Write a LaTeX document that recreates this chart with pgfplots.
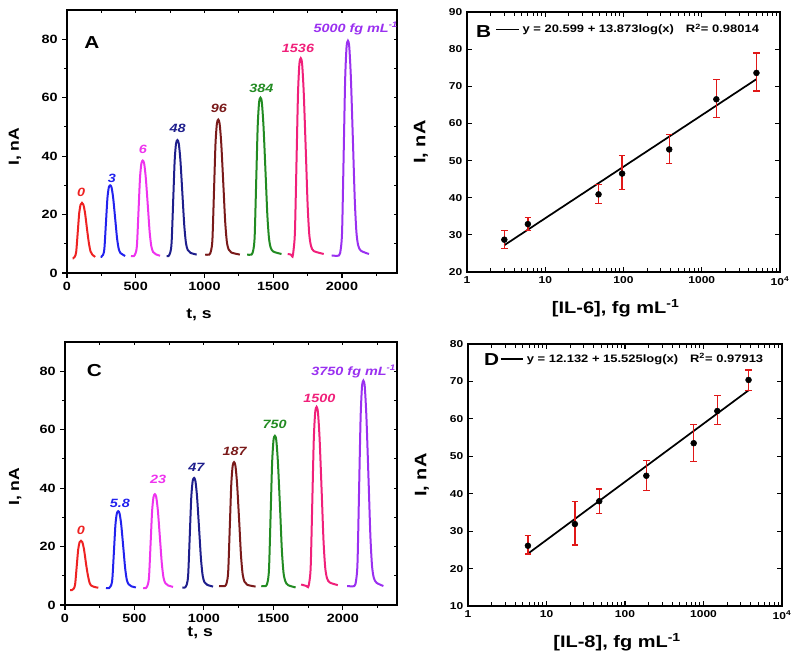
\documentclass[border=0pt]{standalone}
\usepackage{fontspec}
\setmainfont{Liberation Sans}[FakeStretch=1.2]
\usepackage{pgfplots}
\pgfplotsset{compat=1.18}
\definecolor{cRed}{HTML}{EE2222}
\definecolor{cBlue}{HTML}{2222EE}
\definecolor{cMag}{HTML}{EE33EE}
\definecolor{cNavy}{HTML}{1E1E8C}
\definecolor{cDred}{HTML}{7A1A1A}
\definecolor{cGreen}{HTML}{228B22}
\definecolor{cPink}{HTML}{F0207A}
\definecolor{cPurp}{HTML}{9A30F0}
\definecolor{cErr}{HTML}{E01818}
\tikzset{lab/.style={font=\bfseries\itshape\fontsize{9}{10}\selectfont}}
\pgfplotsset{
  pk/.style={line width=1.5pt, smooth, tension=0.45, no markers},
  chrom/.style={scale only axis, anchor=south west, clip=false,
    xmin=0, xmax=2400, ymin=0, ymax=90,
    axis line style={line width=0.8pt},
    tick align=outside, tick pos=left,
    xtick={0,500,...,2000}, minor xtick={250,750,...,2250},
    ytick={0,20,...,80}, minor ytick={10,30,...,70},
    major tick length=3.5pt, minor tick length=2pt,
    tick style={black, line width=0.8pt},
    ticklabel style={font=\bfseries\fontsize{9}{10}\selectfont},
    /pgf/number format/assume math mode=true,
    /pgf/number format/1000 sep={},
    label style={font=\bfseries\fontsize{11}{12}\selectfont},
  },
  chromtop/.style={scale only axis, anchor=south west,
    xmin=0, xmax=2400, ymin=0, ymax=90,
    axis line style={line width=0.8pt},
    tick align=inside, xtick pos=right, ytick pos=right,
    xtick={0,250,...,2250}, ytick={10,20,...,80},
    xticklabels={}, yticklabels={},
    major tick length=2.5pt, tick style={black, line width=0.8pt},
  },
}
\begin{document}
\begin{tikzpicture}
\path[use as bounding box] (0,0) rectangle (600pt,-495pt);

% ---------------- A ----------------
\begin{axis}[chromtop, at={(50.25pt,-204.75pt)}, width=247.5pt, height=197.25pt]
\end{axis}
\begin{axis}[chrom, at={(50.25pt,-204.75pt)}, width=247.5pt, height=197.25pt,
  xlabel={t, s}, ylabel={I, nA},
  xlabel style={at={(axis description cs:0.40,-0.16)}, anchor=center},
  ylabel style={at={(axis description cs:-0.158,0.48)}, anchor=center}]
\addplot[pk, cRed] coordinates {(40,5.0) (44,5.0) (57,5.6) (67,7.3) (79,14.5) (89,20.6) (99,23.4) (109,24.0) (119,23.4) (131,20.6) (147,14.5) (159,10.3) (171,7.4) (184,6.3) (205,5.5)};
\addplot[pk, cBlue] coordinates {(245,5.5) (249,5.5) (262,6.2) (272,8.4) (284,17.8) (294,25.6) (304,29.3) (314,30.0) (324,29.3) (336,25.6) (352,17.8) (364,11.9) (376,8.3) (389,6.8) (409,6.2) (423,5.8)};
\addplot[pk, cMag] coordinates {(465,5.8) (486,5.8) (499,6.8) (509,9.7) (521,22.2) (531,32.6) (541,37.5) (551,38.5) (561,37.5) (573,32.6) (589,22.2) (601,14.1) (613,9.2) (626,7.2) (646,6.4) (677,5.9)};
\addplot[pk, cNavy] coordinates {(725,5.8) (738,5.8) (751,7.0) (761,10.6) (773,25.7) (783,38.4) (793,44.3) (803,45.5) (813,44.3) (825,38.4) (841,25.7) (853,16.2) (865,10.3) (878,7.9) (898,6.9) (943,6.3)};
\addplot[pk, cDred] coordinates {(1005,6.3) (1035,6.3) (1048,7.7) (1058,11.8) (1070,29.4) (1080,44.2) (1090,51.1) (1100,52.5) (1110,51.1) (1122,44.2) (1138,29.4) (1150,17.9) (1162,10.9) (1175,8.1) (1195,7.0) (1257,6.3)};
\addplot[pk, cGreen] coordinates {(1310,6.3) (1342,6.3) (1355,7.9) (1365,12.7) (1377,33.2) (1387,50.3) (1397,58.4) (1407,60.0) (1417,58.4) (1429,50.3) (1445,33.2) (1457,19.9) (1469,11.9) (1482,8.6) (1502,7.3) (1560,6.5)};
\addplot[pk, cPink] coordinates {(1605,6.5) (1628,6.3) (1640,5.6) (1648,8.0) (1658,14.5) (1670,40.0) (1680,61.4) (1690,71.5) (1700,73.5) (1710,71.5) (1722,61.4) (1738,40.0) (1750,23.3) (1762,13.2) (1775,9.2) (1795,7.5) (1867,6.5)};
\addplot[pk, cPurp] coordinates {(1925,6.0) (1978,6.0) (1991,8.2) (2001,14.8) (2013,42.8) (2023,66.3) (2033,77.3) (2043,79.5) (2053,77.3) (2065,66.3) (2081,42.8) (2093,24.9) (2105,13.9) (2118,9.4) (2138,7.6) (2196,6.5)};
\node[font=\bfseries\fontsize{13}{14}\selectfont] at (axis cs:181,78.7) {A};
\node[lab, text=cRed] at (axis cs:102,27.7) {0};
\node[lab, text=cBlue] at (axis cs:326,32.3) {3};
\node[lab, text=cMag] at (axis cs:551,42.3) {6};
\node[lab, text=cNavy] at (axis cs:805,49.6) {48};
\node[lab, text=cDred] at (axis cs:1105,56.5) {96};
\node[lab, text=cGreen] at (axis cs:1414,63.1) {384};
\node[lab, text=cPink] at (axis cs:1680,76.8) {1536};
\node[lab, text=cPurp] at (axis cs:2100,83.6) {5000 fg mL\textsuperscript{-1}};
\end{axis}

% ---------------- B ----------------
\begin{axis}[xmode=log, scale only axis, anchor=south west, clip=false,
  at={(350.25pt,-204pt)}, width=234.75pt, height=195pt,
  xmin=1, xmax=10000, ymin=20, ymax=90, ytick={20,30,...,90},
  xtick={1,10,100,1000,10000},
  xticklabels={1,10,100,1000,10\textsuperscript{4}},
  minor xtick={},
  tick align=inside, tick pos=both, major tick length=3.5pt,
  axis line style={line width=1.1pt},
  tick style={black, line width=0.8pt},
  ticklabel style={font=\bfseries\fontsize{7.5}{9}\selectfont},
  /pgf/number format/assume math mode=true,
  label style={font=\bfseries\fontsize{12.5}{14}\selectfont},
  xlabel={[IL-6], fg mL\textsuperscript{-1}}, ylabel={I, nA},
  xlabel style={at={(axis description cs:0.475,-0.138)}, anchor=center},
  ylabel style={at={(axis description cs:-0.147,0.50)}, anchor=center},
  legend style={at={(0.09,0.933)}, anchor=west, draw=none, fill=none, inner sep=0pt,
    font=\bfseries\fontsize{8.1}{9}\selectfont}]
\addplot[black, line width=1.3pt] coordinates {(3,27.22) (5000,71.92)};
\addlegendentry{y = 20.599 + 13.873log(x)\hspace{9pt}R\textsuperscript{2}= 0.98014}
\addplot[only marks, mark=*, mark size=2.2pt, black, forget plot,
  error bars/.cd, y dir=both, y explicit,
  error bar style={draw=cErr, color=cErr, line width=1pt},
  error mark options={rotate=90, mark size=2.4pt, draw=cErr, color=cErr, line width=1pt}]
  table[x=x, y=y, y error plus=ep, y error minus=em] {
x y ep em
3 28.7 2.5 2.4
6 32.9 1.7 1.7
48 40.9 2.6 2.5
96 46.5 4.9 4.3
384 53.0 4.0 3.7
1536 66.5 5.3 4.9
5000 73.6 5.4 4.9
};
\node[font=\bfseries\fontsize{13}{14}\selectfont] at (rel axis cs:0.053,0.923) {B};
\end{axis}

% ---------------- C ----------------
\begin{axis}[chromtop, at={(48.75pt,-453.75pt)}, width=249pt, height=197.25pt, xmax=2390]
\end{axis}
\begin{axis}[chrom, at={(48.75pt,-453.75pt)}, width=249pt, height=197.25pt, xmax=2390,
  xlabel={t, s}, ylabel={I, nA},
  xlabel style={at={(axis description cs:0.407,-0.105)}, anchor=center},
  ylabel style={at={(axis description cs:-0.15,0.45)}, anchor=center}]
\addplot[pk, cRed] coordinates {(36,5.1) (50,5.1) (63,5.6) (73,7.1) (85,13.6) (95,19.0) (105,21.5) (115,22.0) (125,21.5) (137,19.0) (153,13.6) (165,10.1) (177,7.6) (190,6.6) (210,6.2) (240,5.9)};
\addplot[pk, cBlue] coordinates {(295,5.8) (318,5.8) (331,6.6) (341,9.0) (353,19.0) (363,27.4) (373,31.3) (383,32.1) (393,31.3) (405,27.4) (421,19.0) (433,12.6) (445,8.6) (458,7.1) (478,6.4) (510,6.0)};
\addplot[pk, cMag] coordinates {(563,5.8) (582,5.8) (595,6.8) (605,9.7) (617,21.9) (627,32.1) (637,36.9) (647,37.9) (657,36.9) (669,32.1) (685,21.9) (697,14.2) (709,9.4) (722,7.5) (742,6.7) (778,6.2)};
\addplot[pk, cNavy] coordinates {(845,6.0) (864,6.0) (877,7.1) (887,10.5) (899,24.8) (909,36.8) (919,42.4) (929,43.5) (939,42.4) (951,36.8) (967,24.8) (979,15.7) (991,10.1) (1004,7.8) (1024,6.9) (1066,6.3)};
\addplot[pk, cDred] coordinates {(1109,6.5) (1152,6.5) (1165,7.8) (1175,11.6) (1187,27.7) (1197,41.3) (1207,47.6) (1217,48.9) (1227,47.6) (1239,41.3) (1255,27.7) (1267,16.9) (1279,10.5) (1292,8.0) (1312,6.9) (1372,6.3)};
\addplot[pk, cGreen] coordinates {(1413,6.5) (1446,6.5) (1459,8.0) (1469,12.7) (1481,32.2) (1491,48.6) (1501,56.4) (1511,57.9) (1521,56.4) (1533,48.6) (1549,32.2) (1561,18.9) (1573,11.1) (1586,8.1) (1606,6.8) (1660,6.0)};
\addplot[pk, cPink] coordinates {(1700,7.0) (1738,6.5) (1750,6.1) (1759,7.9) (1769,13.4) (1781,36.9) (1791,56.7) (1801,65.9) (1811,67.8) (1821,65.9) (1833,56.7) (1849,37.2) (1861,22.0) (1873,12.9) (1886,9.2) (1906,7.7) (1964,6.8)};
\addplot[pk, cPurp] coordinates {(2031,6.5) (2083,6.5) (2096,8.6) (2106,14.9) (2118,41.7) (2128,64.1) (2138,74.7) (2148,76.8) (2158,74.7) (2170,64.1) (2186,41.7) (2198,24.1) (2210,13.5) (2223,9.3) (2243,7.6) (2292,6.5)};
\node[font=\bfseries\fontsize{13}{14}\selectfont] at (axis cs:211,80.2) {C};
\node[lab, text=cRed] at (axis cs:115,25.6) {0};
\node[lab, text=cBlue] at (axis cs:395,34.7) {5.8};
\node[lab, text=cMag] at (axis cs:671,43.0) {23};
\node[lab, text=cNavy] at (axis cs:946,47.2) {47};
\node[lab, text=cDred] at (axis cs:1221,52.7) {187};
\node[lab, text=cGreen] at (axis cs:1509,61.7) {750};
\node[lab, text=cPink] at (axis cs:1832,70.8) {1500};
\node[lab, text=cPurp] at (axis cs:2078,80.0) {3750 fg mL\textsuperscript{-1}};
\end{axis}

% ---------------- D ----------------
\begin{axis}[xmode=log, scale only axis, anchor=south west, clip=false,
  at={(351pt,-454.5pt)}, width=235.5pt, height=196.5pt,
  xmin=1, xmax=10000, ymin=10, ymax=80, ytick={10,20,...,80},
  xtick={1,10,100,1000,10000},
  xticklabels={1,10,100,1000,10\textsuperscript{4}},
  minor xtick={},
  tick align=inside, tick pos=both, major tick length=3.5pt,
  axis line style={line width=1.1pt},
  tick style={black, line width=0.8pt},
  ticklabel style={font=\bfseries\fontsize{7.5}{9}\selectfont},
  /pgf/number format/assume math mode=true,
  label style={font=\bfseries\fontsize{12.5}{14}\selectfont},
  xlabel={[IL-8], fg mL\textsuperscript{-1}}, ylabel={I, nA},
  xlabel style={at={(axis description cs:0.475,-0.138)}, anchor=center},
  ylabel style={at={(axis description cs:-0.147,0.50)}, anchor=center},
  legend style={at={(0.10,0.942)}, anchor=west, draw=none, fill=none, inner sep=0pt,
    font=\bfseries\fontsize{8.1}{9}\selectfont}]
\addplot[black, line width=1.3pt] coordinates {(5.8,23.98) (3750,67.62)};
\addlegendentry{y = 12.132 + 15.525log(x)\hspace{9pt}R\textsuperscript{2}= 0.97913}
\addplot[only marks, mark=*, mark size=2.2pt, black, forget plot,
  error bars/.cd, y dir=both, y explicit,
  error bar style={draw=cErr, color=cErr, line width=1pt},
  error mark options={rotate=90, mark size=2.4pt, draw=cErr, color=cErr, line width=1pt}]
  table[x=x, y=y, y error plus=ep, y error minus=em] {
x y ep em
5.8 26.1 2.8 2.2
23 31.9 6.0 5.6
47 38.0 3.3 3.2
187 44.8 4.0 4.0
750 53.5 5.0 4.9
1500 62.1 4.2 3.6
3750 70.4 2.7 2.9
};
\node[font=\bfseries\fontsize{13}{14}\selectfont] at (rel axis cs:0.075,0.939) {D};
\end{axis}
\end{tikzpicture}
\end{document}
